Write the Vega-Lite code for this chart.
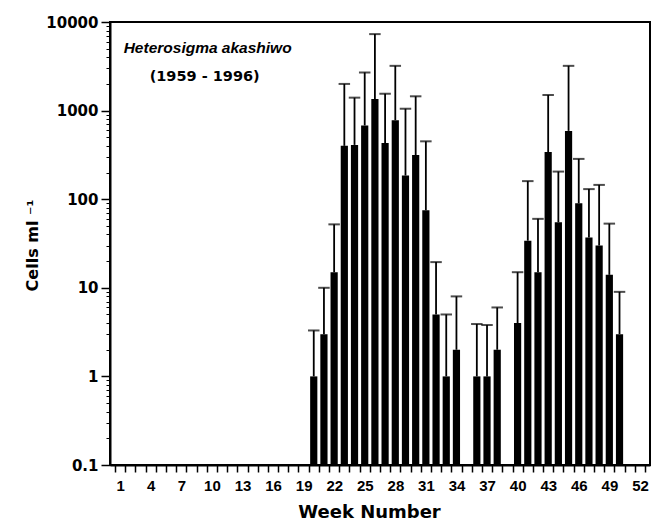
{
  "$schema": "https://vega.github.io/schema/vega-lite/v6.json",
  "width": 540,
  "height": 443,
  "autosize": {"type": "none"},
  "padding": {"left": 110, "top": 22, "right": 6, "bottom": 58},
  "background": "white",
  "config": {
    "view": {"stroke": "black", "strokeWidth": 2},
    "axis": {"domainColor": "black", "domainWidth": 2, "tickColor": "black", "grid": false, "labelColor": "black", "titleColor": "black"}
  },
  "datasets": {
    "weeks": [
      {"week": 20, "mean": 1, "upper": 3.3},
      {"week": 21, "mean": 3, "upper": 10},
      {"week": 22, "mean": 15, "upper": 52},
      {"week": 23, "mean": 400, "upper": 2000},
      {"week": 24, "mean": 410, "upper": 1400},
      {"week": 25, "mean": 680, "upper": 2700},
      {"week": 26, "mean": 1350, "upper": 7300},
      {"week": 27, "mean": 430, "upper": 1550},
      {"week": 28, "mean": 780, "upper": 3200},
      {"week": 29, "mean": 185, "upper": 1050},
      {"week": 30, "mean": 315, "upper": 1450},
      {"week": 31, "mean": 75, "upper": 450},
      {"week": 32, "mean": 5, "upper": 19.5},
      {"week": 33, "mean": 1, "upper": 5},
      {"week": 34, "mean": 2, "upper": 8},
      {"week": 36, "mean": 1, "upper": 3.9},
      {"week": 37, "mean": 1, "upper": 3.8},
      {"week": 38, "mean": 2, "upper": 6},
      {"week": 40, "mean": 4, "upper": 15},
      {"week": 41, "mean": 34, "upper": 160},
      {"week": 42, "mean": 15, "upper": 60},
      {"week": 43, "mean": 340, "upper": 1500},
      {"week": 44, "mean": 55, "upper": 205},
      {"week": 45, "mean": 590, "upper": 3200},
      {"week": 46, "mean": 90, "upper": 285},
      {"week": 47, "mean": 37, "upper": 130},
      {"week": 48, "mean": 30, "upper": 145},
      {"week": 49, "mean": 14, "upper": 53},
      {"week": 50, "mean": 3, "upper": 9}
    ]
  },
  "resolve": {"axis": {"y": "independent"}},
  "layer": [
    {
      "data": {"name": "weeks"},
      "mark": {"type": "bar", "color": "black", "size": 7.2},
      "encoding": {
        "x": {
          "field": "week", "type": "quantitative",
          "scale": {"domain": [0.5, 52.5], "nice": false, "zero": false},
          "axis": {
            "title": "Week Number",
            "titleFont": "DejaVu Sans", "titleFontSize": 18, "titleFontWeight": "bold",
            "titleX": 259, "titleY": 47, "titleBaseline": "middle", "titleAnchor": null, "titleAlign": "center",
            "values": [0.5,1.5,2.5,3.5,4.5,5.5,6.5,7.5,8.5,9.5,10.5,11.5,12.5,13.5,14.5,15.5,16.5,17.5,18.5,19.5,20.5,21.5,22.5,23.5,24.5,25.5,26.5,27.5,28.5,29.5,30.5,31.5,32.5,33.5,34.5,35.5,36.5,37.5,38.5,39.5,40.5,41.5,42.5,43.5,44.5,45.5,46.5,47.5,48.5,49.5,50.5,51.5,52.5],
            "tickCount": 200,
            "labelExpr": "(datum.value + 0.5) % 3 == 1 && datum.value < 52 ? format(datum.value + 0.5, 'd') : ''",
            "labelOffset": 5.19,
            "labelFlush": false,
            "labelOverlap": false,
            "labelFont": "Liberation Sans", "labelFontSize": 15, "labelFontWeight": "bold",
            "labelPadding": 6,
            "tickSize": 7, "tickWidth": 1.5
          }
        },
        "y": {
          "field": "mean", "type": "quantitative",
          "scale": {"type": "log", "domain": [0.1, 10000], "nice": false},
          "axis": {
            "title": "Cells ml  ⁻¹",
            "titleFont": "DejaVu Sans", "titleFontSize": 16, "titleFontWeight": "bold",
            "titleX": -78, "titleY": 223, "titleAngle": -90, "titleAlign": "center", "titleBaseline": "middle", "titleAnchor": null,
            "values": [0.1, 1, 10, 100, 1000, 10000],
            "tickCount": 200,
            "labelExpr": "datum.value < 1 ? '0.1' : format(datum.value, 'd')",
            "labelFont": "DejaVu Sans", "labelFontSize": 15, "labelFontWeight": "bold",
            "labelPadding": 3, "labelFlush": false, "labelOverlap": false,
            "tickSize": 9, "tickWidth": 1.5
          }
        },
        "y2": {"datum": 0.1}
      }
    },
    {
      "data": {"name": "weeks"},
      "mark": {"type": "rule", "color": "black", "strokeWidth": 1.8},
      "encoding": {
        "x": {"field": "week", "type": "quantitative"},
        "y": {
          "field": "mean", "type": "quantitative",
          "axis": {
            "orient": "left", "title": null, "domain": false, "labels": false,
            "values": [0.2,0.3,0.4,0.5,0.6,0.7,0.8,0.9,2,3,4,5,6,7,8,9,20,30,40,50,60,70,80,90,200,300,400,500,600,700,800,900,2000,3000,4000,5000,6000,7000,8000,9000],
            "tickCount": 200,
            "tickSize": 4, "tickWidth": 1
          }
        },
        "y2": {"field": "upper"}
      }
    },
    {
      "data": {"name": "weeks"},
      "mark": {"type": "tick", "orient": "horizontal", "color": "black", "thickness": 2, "size": 11.5},
      "encoding": {
        "x": {"field": "week", "type": "quantitative"},
        "y": {"field": "upper", "type": "quantitative", "axis": null}
      }
    },
    {
      "data": {"values": [{"label": "Heterosigma akashiwo", "wx": 1.35, "cy": 5045}]},
      "mark": {"type": "text", "align": "left", "baseline": "middle", "font": "Liberation Sans", "fontSize": 15.5, "fontWeight": "bold", "fontStyle": "italic", "color": "black"},
      "encoding": {
        "x": {"field": "wx", "type": "quantitative"},
        "y": {"field": "cy", "type": "quantitative", "axis": null},
        "text": {"field": "label"}
      }
    },
    {
      "data": {"values": [{"label": "(1959 - 1996)", "wx": 3.9, "cy": 2414}]},
      "mark": {"type": "text", "align": "left", "baseline": "middle", "font": "DejaVu Sans", "fontSize": 14.5, "fontWeight": "bold", "color": "black"},
      "encoding": {
        "x": {"field": "wx", "type": "quantitative"},
        "y": {"field": "cy", "type": "quantitative", "axis": null},
        "text": {"field": "label"}
      }
    }
  ]
}
